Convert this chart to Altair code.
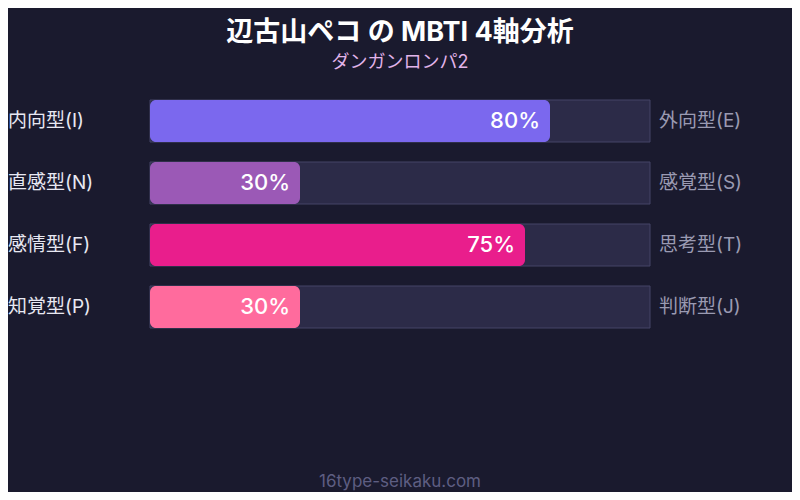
import altair as alt
import pandas as pd

left_labels = ["内向型(I)", "直感型(N)", "感情型(F)", "知覚型(P)"]
right_labels = ["外向型(E)", "感覚型(S)", "思考型(T)", "判断型(J)"]
values = [80, 30, 75, 30]
colors = ["#7b68ee", "#9b59b6", "#e91e8c", "#ff6b9d"]

title_text = "辺古山ペコ の MBTI 4軸分析"
subtitle_text = "ダンガンロンパ2"
footer_text = "16type-seikaku.com"

df = pd.DataFrame({
    "left": left_labels,
    "right": right_labels,
    "value": values,
    "color": colors,
    "zero": [0] * 4,
    "full": [100] * 4,
    "label": [f"{v}%" for v in values],
})

BG = "#1a1a2e"
FONT = "Inter, 'Noto Sans CJK JP', sans-serif"

xs = alt.Scale(domain=[0, 100], range=[142, 642])
ys = alt.Scale(range=[92, 320], paddingInner=20 / 62, paddingOuter=0)
y_enc = alt.Y("left:N", sort=left_labels, scale=ys, axis=None)

base = alt.Chart(df)

track = base.mark_bar(fill="#2c2b48", stroke="#444466", strokeWidth=1).encode(
    x=alt.X("zero:Q", scale=xs, axis=None),
    x2="full:Q",
    y=y_enc,
)

bars = base.mark_bar(cornerRadius=6).encode(
    x=alt.X("zero:Q", scale=xs, axis=None),
    x2="value:Q",
    y=y_enc,
    color=alt.Color("color:N", scale=None, legend=None),
)

pct = base.mark_text(
    align="right", baseline="middle", dx=-10, fontSize=22, fontWeight=500,
    color="#ffffff", font=FONT,
).encode(
    x=alt.X("value:Q", scale=xs, axis=None),
    y=y_enc,
    text="label:N",
)

left_text = base.mark_text(
    align="left", baseline="middle", fontSize=19, color="#e8e8f2", font=FONT,
).encode(
    x=alt.value(0),
    y=y_enc,
    text="left:N",
)

right_text = base.mark_text(
    align="left", baseline="middle", fontSize=19, color="#9a9ab2", font=FONT,
).encode(
    x=alt.value(651),
    y=y_enc,
    text="right:N",
)

title = alt.Chart(pd.DataFrame({"t": [title_text]})).mark_text(
    align="center", baseline="middle", fontSize=27, fontWeight="bold",
    color="#ffffff", font=FONT,
).encode(x=alt.value(392), y=alt.value(25), text="t:N")

subtitle = alt.Chart(pd.DataFrame({"t": [subtitle_text]})).mark_text(
    align="center", baseline="middle", fontSize=18, color="#e2b4ea", font=FONT,
).encode(x=alt.value(392), y=alt.value(55), text="t:N")

footer = alt.Chart(pd.DataFrame({"t": [footer_text]})).mark_text(
    align="center", baseline="middle", fontSize=17, color="#5e5e82", font=FONT,
).encode(x=alt.value(392), y=alt.value(474), text="t:N")

chart = alt.layer(
    track, bars, pct, left_text, right_text, title, subtitle, footer
).properties(
    width=784, height=484, padding=0, background=BG,
    autosize=alt.AutoSizeParams(type="none"),
).configure_view(strokeWidth=0)

chart.save("out.html", embed_options={"renderer": "svg", "actions": False})
